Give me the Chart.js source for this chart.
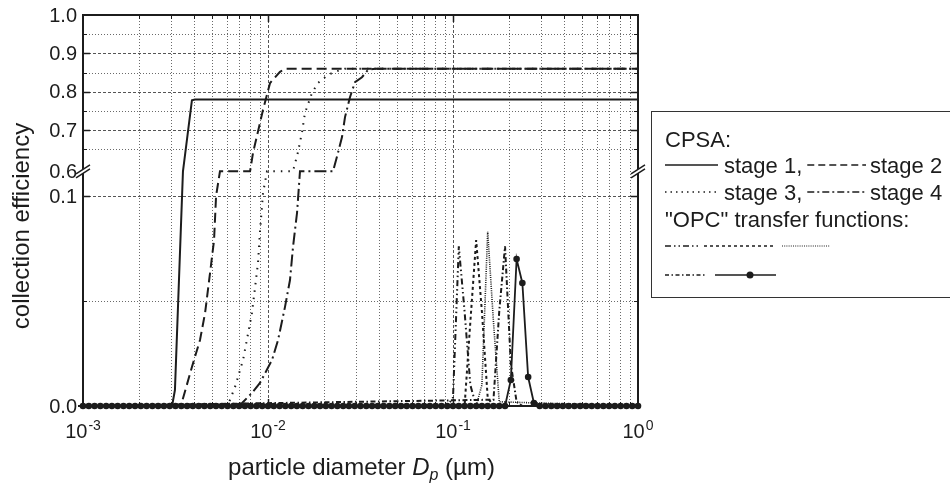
<!DOCTYPE html>
<html>
<head>
<meta charset="utf-8">
<script src="https://cdn.jsdelivr.net/npm/chart.js@4.4.1/dist/chart.umd.min.js"></script>
<style>
  html, body { margin: 0; padding: 0; background: #ffffff; }
  #wrap { width: 950px; height: 490px; position: relative; }
  canvas { display: block; }
</style>
</head>
<body>
<div id="wrap"><canvas id="c" width="950" height="490"></canvas></div>
<script>
// ---------------- data ----------------
const xTickValues = [0.001, 0.01, 0.1, 1];
const xTickExponents = ['-3', '-2', '-1', '0'];
const xMinorGrid = [0.002,0.003,0.004,0.005,0.006,0.007,0.008,0.009,
                    0.02,0.03,0.04,0.05,0.06,0.07,0.08,0.09,
                    0.2,0.3,0.4,0.5,0.6,0.7,0.8,0.9];
const xMajorGrid = [0.01, 0.1];
const yTickValues = [0, 0.1, 0.6, 0.7, 0.8, 0.9, 1.0];
const yTickLabels = ['0.0', '0.1', '0.6', '0.7', '0.8', '0.9', '1.0'];
const yMinorGrid = [0.05, 0.65, 0.75, 0.85, 0.95];
const yMajorGrid = [0.1, 0.7, 0.8, 0.9];

// CPSA stages: particle diameter (µm) and collection efficiency
const stage1D = [0.001, 0.00303, 0.00314, 0.00347, 0.00388, 0.00403, 1];
const stage1E = [0, 0, 0.0076, 0.55, 0.778, 0.78, 0.78];

const stage2D = [0.001, 0.00339, 0.00343, 0.00388, 0.00429, 0.00457, 0.00486, 0.00511, 0.00524, 0.00550, 0.0080, 0.0083, 0.0094, 0.01026, 0.01161, 0.01235, 1];
const stage2E = [0, 0, 0.002, 0.0186, 0.0314, 0.0443, 0.0633, 0.079, 0.1, 0.55, 0.55, 0.641, 0.753, 0.823, 0.852, 0.86, 0.86];

const stage3D = [0.001, 0.00606, 0.00623, 0.00663, 0.00733, 0.00819, 0.00883, 0.00905, 0.0094, 0.00988, 0.01365, 0.01453, 0.01527, 0.01585, 0.01729, 0.01864, 0.0211, 0.02303, 0.0260, 1];
const stage3E = [0, 0, 0.0029, 0.009, 0.0219, 0.0443, 0.0681, 0.083, 0.155, 0.55, 0.55, 0.643, 0.695, 0.745, 0.797, 0.823, 0.844, 0.852, 0.86, 0.86];

const stage4D = [0.001, 0.00688, 0.00724, 0.00819, 0.00905, 0.01051, 0.01133, 0.01235, 0.01315, 0.01365, 0.01435, 0.01489, 0.02247, 0.02389, 0.02512, 0.02608, 0.02774, 0.02953, 0.03221, 0.03472, 0.03789, 1];
const stage4E = [0, 0.0005, 0.0014, 0.0062, 0.011, 0.0219, 0.0314, 0.0471, 0.06, 0.0757, 0.0919, 0.55, 0.55, 0.641, 0.682, 0.734, 0.786, 0.825, 0.838, 0.857, 0.86, 0.86];

// "OPC" transfer functions
const opc1D = [0.001, 0.0931, 0.1, 0.1075, 0.1155, 0.1241, 0.1334, 1];
const opc1E = [0, 0, 0.004, 0.076, 0.045, 0.010, 0, 0];
const opc2D = [0.001, 0.1155, 0.1241, 0.1334, 0.1433, 0.154, 0.1655, 1];
const opc2E = [0, 0, 0.040, 0.079, 0.045, 0.004, 0, 0];
const opc3D = [0.001, 0.1334, 0.1433, 0.154, 0.1655, 0.1778, 1];
const opc3E = [0, 0, 0.010, 0.083, 0.040, 0.002, 0];
const opc4D = [0.001, 0.1655, 0.1778, 0.1911, 0.2054, 0.2207, 0.2371, 1];
const opc4E = [0, 0.003, 0.045, 0.076, 0.020, 0.002, 0, 0];

// marker series, on its diameter grid
const opc5D = [
  0.001, 0.001075, 0.001155, 0.001241, 0.001334, 0.001433, 0.00154, 0.001655, 0.001778, 0.001911, 0.002054, 0.002207, 0.002371, 0.002548, 0.002738, 0.002943,
  0.003162, 0.003398, 0.003652, 0.003924, 0.004217, 0.004532, 0.00487, 0.005233, 0.005623, 0.006043, 0.006494, 0.006978, 0.007499, 0.008058, 0.00866, 0.009306,
  0.01, 0.01075, 0.01155, 0.01241, 0.01334, 0.01433, 0.0154, 0.01655, 0.01778, 0.01911, 0.02054, 0.02207, 0.02371, 0.02548, 0.02738, 0.02943,
  0.03162, 0.03398, 0.03652, 0.03924, 0.04217, 0.04532, 0.0487, 0.05233, 0.05623, 0.06043, 0.06494, 0.06978, 0.07499, 0.08058, 0.0866, 0.09306,
  0.1, 0.1075, 0.1155, 0.1241, 0.1334, 0.1433, 0.154, 0.1655, 0.1778, 0.1911, 0.2054, 0.2207, 0.2371, 0.2548, 0.2738, 0.2943,
  0.3162, 0.3398, 0.3652, 0.3924, 0.4217, 0.4532, 0.487, 0.5233, 0.5623, 0.6043, 0.6494, 0.6978, 0.7499, 0.8058, 0.866, 0.9306,
  1.0
];
const opc5E = [
  0,0,0,0,0,0,0,0,0,0,0,0,0,0,0,0,
  0,0,0,0,0,0,0,0,0,0,0,0,0,0,0,0,
  0,0,0,0,0,0,0,0,0,0,0,0,0,0,0,0,
  0,0,0,0,0,0,0,0,0,0,0,0,0,0,0,0,
  0,0,0,0,0,0,0,0,0,0,0.0124,0.070,0.0586,0.0138,0.0014,0,
  0,0,0,0,0,0,0,0,0,0,0,0,0,0,0,0,
  0
];

// ---------------- broken (piecewise linear) y scale ----------------
const BREAK_VALUES = [0, 0.1, 0.6, 1.0];
const BREAK_FRACS  = [0, 0.5371, 0.6072, 1.0];
function toFrac(v) {
  for (let i = 1; i < BREAK_VALUES.length; i++) {
    if (v <= BREAK_VALUES[i] || i === BREAK_VALUES.length - 1) {
      const a = BREAK_VALUES[i-1], b = BREAK_VALUES[i];
      return BREAK_FRACS[i-1] + (v - a) / (b - a) * (BREAK_FRACS[i] - BREAK_FRACS[i-1]);
    }
  }
  return 1;
}
function fromFrac(f) {
  for (let i = 1; i < BREAK_FRACS.length; i++) {
    if (f <= BREAK_FRACS[i] || i === BREAK_FRACS.length - 1) {
      const a = BREAK_FRACS[i-1], b = BREAK_FRACS[i];
      return BREAK_VALUES[i-1] + (f - a) / (b - a) * (BREAK_VALUES[i] - BREAK_VALUES[i-1]);
    }
  }
  return 1;
}
class BrokenLinearScale extends Chart.LinearScale {
  getPixelForValue(value) {
    if (value === null || value === undefined || isNaN(value)) return NaN;
    return this.getPixelForDecimal(toFrac(value));
  }
  getValueForPixel(pixel) {
    return fromFrac(this.getDecimalForPixel(pixel));
  }
}
BrokenLinearScale.id = 'brokenLinear';
BrokenLinearScale.defaults = Chart.LinearScale.defaults;
Chart.register(BrokenLinearScale);

// ---------------- helpers ----------------
const INK = '#1c1c1c';
const GRID = '#6a6a6a';
const FONT = '"Liberation Sans", Arial, Helvetica, sans-serif';
function pts(xs, ys) { return xs.map((x, i) => ({ x: x, y: ys[i] })); }

function line(ctx, x1, y1, x2, y2, dash, width, color) {
  ctx.save();
  ctx.beginPath();
  ctx.setLineDash(dash || []);
  ctx.lineWidth = width || 1;
  ctx.strokeStyle = color || INK;
  ctx.moveTo(x1, y1);
  ctx.lineTo(x2, y2);
  ctx.stroke();
  ctx.restore();
}

const decor = {
  id: 'decor',
  beforeDatasetsDraw(chart) {
    const ctx = chart.ctx;
    const xs = chart.scales.x, ys = chart.scales.y;
    const { left, right, top, bottom } = chart.chartArea;
    xMinorGrid.forEach(v => {
      const p = Math.round(xs.getPixelForValue(v)) + 0.5;
      line(ctx, p, top, p, bottom, [1, 2], 1, GRID);
    });
    xMajorGrid.forEach(v => {
      const p = Math.round(xs.getPixelForValue(v)) + 0.5;
      line(ctx, p, top, p, bottom, [3, 2], 1, '#555');
    });
    yMinorGrid.forEach(v => {
      const p = Math.round(ys.getPixelForValue(v)) + 0.5;
      line(ctx, left, p, right, p, [1, 2], 1, GRID);
    });
    yMajorGrid.forEach(v => {
      const p = Math.round(ys.getPixelForValue(v)) + 0.5;
      line(ctx, left, p, right, p, [3, 2], 1, '#555');
    });
  },
  afterDatasetsDraw(chart) {
    const ctx = chart.ctx;
    const xs = chart.scales.x, ys = chart.scales.y;
    const { left, right, top, bottom } = chart.chartArea;

    // frame
    ctx.save();
    ctx.lineWidth = 2;
    ctx.strokeStyle = INK;
    ctx.setLineDash([]);
    ctx.strokeRect(left, top, right - left, bottom - top);
    ctx.restore();

    // inward ticks
    xMinorGrid.forEach(v => {
      const p = Math.round(xs.getPixelForValue(v)) + 0.5;
      line(ctx, p, top, p, top + 4, [], 1, INK);
      line(ctx, p, bottom, p, bottom - 4, [], 1, INK);
    });
    xMajorGrid.forEach(v => {
      const p = Math.round(xs.getPixelForValue(v)) + 0.5;
      line(ctx, p, top, p, top + 7, [], 1.5, INK);
      line(ctx, p, bottom, p, bottom - 7, [], 1.5, INK);
    });
    yMinorGrid.forEach(v => {
      const p = Math.round(ys.getPixelForValue(v)) + 0.5;
      line(ctx, left, p, left + 4, p, [], 1, INK);
      line(ctx, right, p, right - 4, p, [], 1, INK);
    });
    yMajorGrid.forEach(v => {
      const p = Math.round(ys.getPixelForValue(v)) + 0.5;
      line(ctx, left, p, left + 7, p, [], 1.5, INK);
      line(ctx, right, p, right - 7, p, [], 1.5, INK);
    });
    // small outward tick at 0.0
    line(ctx, left - 5, bottom, left, bottom, [], 2, INK);

    // axis break marks
    const by = ys.getPixelForValue(0.55) + 1;
    [left, right].forEach(bx => {
      ctx.save();
      ctx.fillStyle = '#ffffff';
      ctx.beginPath();
      ctx.moveTo(bx - 7, by + 1.5);
      ctx.lineTo(bx + 7, by - 7.5);
      ctx.lineTo(bx + 7, by - 3.5);
      ctx.lineTo(bx - 7, by + 5.5);
      ctx.closePath();
      ctx.fill();
      ctx.restore();
      line(ctx, bx - 7, by + 1.5, bx + 7, by - 7.5, [], 1.5, INK);
      line(ctx, bx - 7, by + 5.5, bx + 7, by - 3.5, [], 1.5, INK);
    });

    // y tick labels
    ctx.save();
    ctx.fillStyle = INK;
    ctx.font = '20px ' + FONT;
    ctx.textAlign = 'right';
    ctx.textBaseline = 'middle';
    yTickValues.forEach((v, i) => {
      let p = ys.getPixelForValue(v);
      if (v === 0.6) p += 2.5;
      ctx.fillText(yTickLabels[i], left - 6, p + 1);
    });
    ctx.restore();

    // x tick labels 10^n
    ctx.save();
    ctx.fillStyle = INK;
    ctx.textBaseline = 'alphabetic';
    ctx.textAlign = 'left';
    xTickValues.forEach((v, i) => {
      const p = xs.getPixelForValue(v);
      ctx.font = '20px ' + FONT;
      const wb = ctx.measureText('10').width;
      ctx.font = '14px ' + FONT;
      const we = ctx.measureText(xTickExponents[i]).width;
      const x0 = p - (wb + we + 1) / 2;
      ctx.font = '20px ' + FONT;
      ctx.fillText('10', x0, 438);
      ctx.font = '14px ' + FONT;
      ctx.fillText(xTickExponents[i], x0 + wb + 1, 430);
    });
    ctx.restore();

    // axis titles
    ctx.save();
    ctx.fillStyle = INK;
    ctx.font = '24px ' + FONT;
    ctx.textAlign = 'center';
    ctx.textBaseline = 'middle';
    ctx.translate(22, 226);
    ctx.rotate(-Math.PI / 2);
    ctx.fillText('collection efficiency', 0, 0);
    ctx.restore();

    ctx.save();
    ctx.fillStyle = INK;
    ctx.textBaseline = 'alphabetic';
    ctx.textAlign = 'left';
    const parts = [
      { t: 'particle diameter ', f: '24px ' + FONT, dy: 0 },
      { t: 'D', f: 'italic 24px ' + FONT, dy: 0 },
      { t: 'p', f: 'italic 16px ' + FONT, dy: 5 },
      { t: ' (\u00b5m)', f: '24px ' + FONT, dy: 0 }
    ];
    let tw = 0;
    parts.forEach(pt => { ctx.font = pt.f; pt.w = ctx.measureText(pt.t).width; tw += pt.w; });
    let cx = (left + right) / 2 + 1 - tw / 2;
    parts.forEach(pt => { ctx.font = pt.f; ctx.fillText(pt.t, cx, 475 + pt.dy); cx += pt.w; });
    ctx.restore();

    // legend box
    ctx.save();
    ctx.lineWidth = 1;
    ctx.strokeStyle = '#333';
    ctx.setLineDash([]);
    ctx.strokeRect(651.5, 111.5, 340, 186);
    ctx.fillStyle = INK;
    ctx.font = '22px ' + FONT;
    ctx.textAlign = 'left';
    ctx.textBaseline = 'alphabetic';
    ctx.fillText('CPSA:', 665, 147);
    ctx.fillText('stage 1,', 724, 173);
    const w1 = ctx.measureText('stage 1,').width;
    ctx.fillText('stage 2', 870, 173);
    ctx.fillText('stage 3,', 724, 200);
    const w3 = ctx.measureText('stage 3,').width;
    ctx.fillText('stage 4', 870, 200);
    ctx.fillText('"OPC" transfer functions:', 665, 227);
    ctx.restore();
    line(ctx, 665, 165, 718, 165, [], 1.5, INK);
    line(ctx, 724 + w1 + 5, 165, 866, 165, [7, 4], 1.5, INK);
    line(ctx, 665, 192, 718, 192, [1.5, 4], 1.5, INK);
    line(ctx, 724 + w3 + 5, 192, 866, 192, [7, 3, 2, 3], 1.5, INK);
    line(ctx, 665, 246, 701, 246, [6, 3, 1.5, 3, 1.5, 3], 1.5, INK);
    line(ctx, 704, 246, 776, 246, [3, 3], 1.5, INK);
    line(ctx, 782, 246, 830, 246, [1, 1.2], 1, INK);
    line(ctx, 665, 275, 706, 275, [4, 2.5, 1.5, 2.5], 1.5, INK);
    line(ctx, 715, 275, 776, 275, [], 1.5, INK);
    ctx.save();
    ctx.fillStyle = INK;
    ctx.beginPath();
    ctx.arc(750, 275, 3.5, 0, Math.PI * 2);
    ctx.fill();
    ctx.restore();
  }
};

// ---------------- chart ----------------
const common = { pointRadius: 0, borderColor: INK, backgroundColor: INK, tension: 0, fill: false, clip: false };
const chart = new Chart(document.getElementById('c'), {
  type: 'line',
  data: {
    datasets: [
      Object.assign({ label: 'stage 1', data: pts(stage1D, stage1E), borderWidth: 2, borderDash: [] }, common),
      Object.assign({ label: 'stage 2', data: pts(stage2D, stage2E), borderWidth: 2, borderDash: [10, 5] }, common),
      Object.assign({ label: 'stage 3', data: pts(stage3D, stage3E), borderWidth: 2, borderDash: [1.5, 6] }, common),
      Object.assign({ label: 'stage 4', data: pts(stage4D, stage4E), borderWidth: 2, borderDash: [12, 4, 2, 4] }, common),
      Object.assign({ label: 'OPC 1', data: pts(opc1D, opc1E), borderWidth: 2, borderDash: [6, 3, 1.5, 3, 1.5, 3] }, common),
      Object.assign({ label: 'OPC 2', data: pts(opc2D, opc2E), borderWidth: 2, borderDash: [3, 3] }, common),
      Object.assign({ label: 'OPC 3', data: pts(opc3D, opc3E), borderWidth: 1.6, borderDash: [1, 1.2] }, common),
      Object.assign({ label: 'OPC 4', data: pts(opc4D, opc4E), borderWidth: 2, borderDash: [5, 2.5, 1.5, 2.5] }, common),
      Object.assign({}, common, { label: 'OPC 5', data: pts(opc5D, opc5E), borderWidth: 1.8, borderDash: [],
        pointRadius: 3.3, pointBorderWidth: 0, pointBackgroundColor: INK, pointBorderColor: INK })
    ]
  },
  options: {
    responsive: false,
    animation: false,
    events: [],
    layout: { padding: { left: 83, right: 312, top: 15, bottom: 84 } },
    scales: {
      x: { type: 'logarithmic', min: 0.001, max: 1, display: false },
      y: { type: 'brokenLinear', min: 0, max: 1, display: false }
    },
    plugins: { legend: { display: false }, tooltip: { enabled: false } }
  },
  plugins: [decor]
});
</script>
</body>
</html>
